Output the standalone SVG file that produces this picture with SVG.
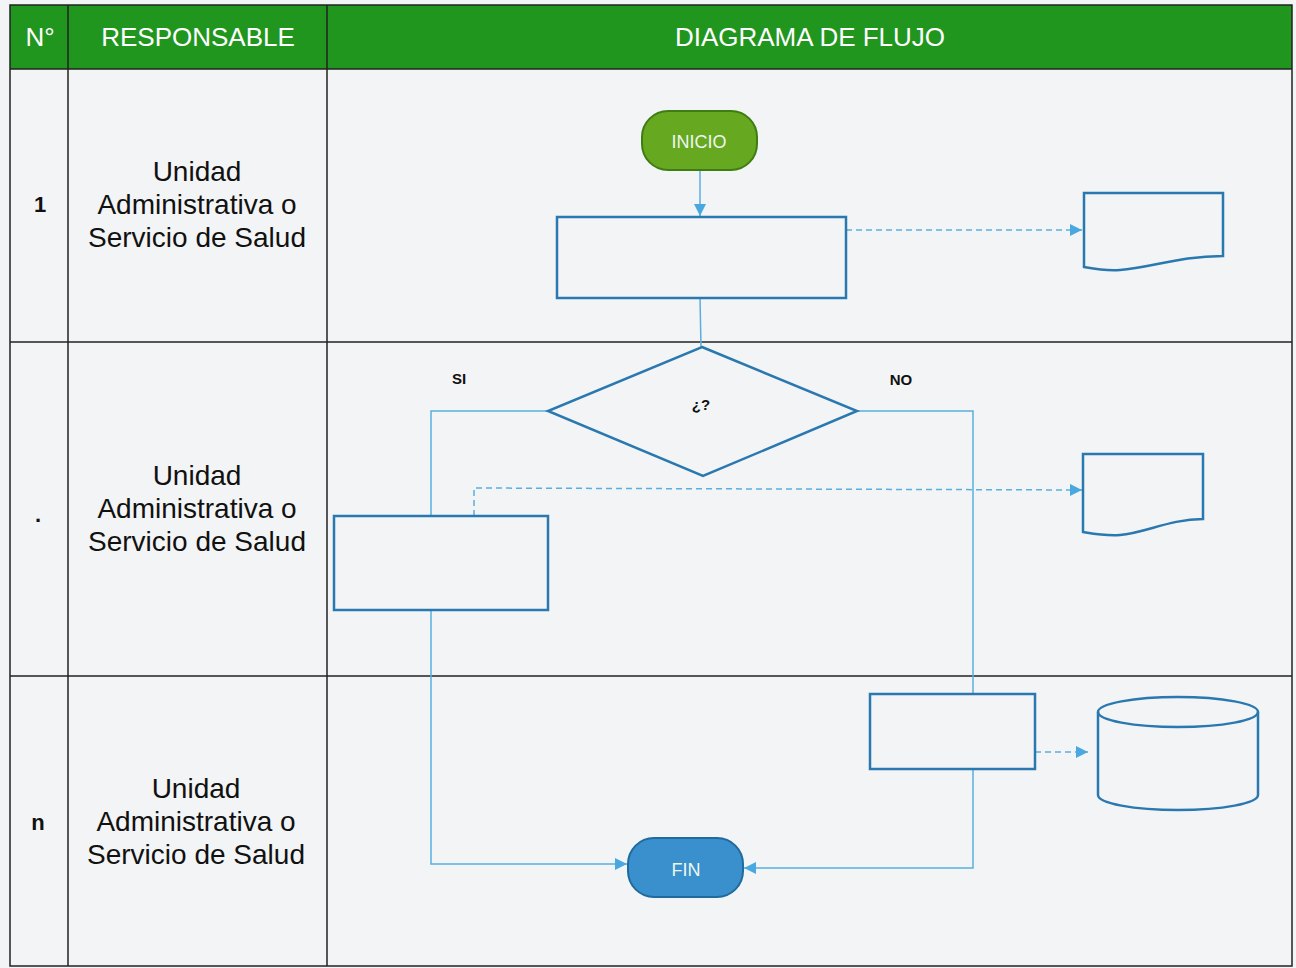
<svg xmlns="http://www.w3.org/2000/svg" width="1296" height="968" viewBox="0 0 1296 968">
<defs>
<style>
.hdr{font-family:"Liberation Sans",Arial,sans-serif;font-size:26px;fill:#ffffff;text-anchor:middle}
.lbl{font-family:"Liberation Sans",Arial,sans-serif;font-size:28px;fill:#111;text-anchor:middle}
.num{font-family:"Liberation Sans",Arial,sans-serif;font-size:22px;font-weight:bold;fill:#111;text-anchor:middle}
.sm{font-family:"Liberation Sans",Arial,sans-serif;font-size:15px;font-weight:bold;fill:#111;text-anchor:middle}
.term{font-family:"Liberation Sans",Arial,sans-serif;font-size:18px;fill:#eef6ee;text-anchor:middle}
.grid{stroke:#222;stroke-width:1.5;fill:none}
.box{fill:none;stroke:#2a78b0;stroke-width:2.5}
.boxf{fill:#f3f4f5;stroke:#2a78b0;stroke-width:2.5}
.conn{fill:none;stroke:#5aaee0;stroke-width:1.5}
.dash{fill:none;stroke:#5aaee0;stroke-width:1.5;stroke-dasharray:6 4}
</style>
<marker id="arr" viewBox="0 0 10 10" refX="10" refY="5" markerWidth="12" markerHeight="12" markerUnits="userSpaceOnUse" orient="auto">
<path d="M0,0 L10,5 L0,10 z" fill="#4aa8e0"/>
</marker>
</defs>
<rect x="0" y="0" width="1296" height="968" fill="#f3f4f5"/>
<g id="table">
<rect x="10" y="5" width="1282" height="64" fill="#20961e"/>
<rect x="10" y="5" width="1282" height="961" class="grid"/>
<line x1="68" y1="5" x2="68" y2="966" class="grid"/>
<line x1="327" y1="5" x2="327" y2="966" class="grid"/>
<line x1="10" y1="69" x2="1292" y2="69" class="grid"/>
<line x1="10" y1="342" x2="1292" y2="342" class="grid"/>
<line x1="10" y1="676" x2="1292" y2="676" class="grid"/>
<text x="40" y="46" class="hdr">N°</text>
<text x="198" y="46" class="hdr">RESPONSABLE</text>
<text x="810" y="46" class="hdr">DIAGRAMA DE FLUJO</text>
<text x="40" y="212" class="num">1</text>
<text x="38" y="522" class="num">.</text>
<text x="38" y="830" class="num">n</text>
<text class="lbl"><tspan x="197" y="181">Unidad</tspan><tspan x="197" y="214">Administrativa o</tspan><tspan x="197" y="247">Servicio de Salud</tspan></text>
<text class="lbl"><tspan x="197" y="485">Unidad</tspan><tspan x="197" y="518">Administrativa o</tspan><tspan x="197" y="551">Servicio de Salud</tspan></text>
<text class="lbl"><tspan x="196" y="798">Unidad</tspan><tspan x="196" y="831">Administrativa o</tspan><tspan x="196" y="864">Servicio de Salud</tspan></text>
</g>
<g id="connectors">
<line x1="700" y1="170" x2="700" y2="216" class="conn" marker-end="url(#arr)"/>
<line x1="700" y1="298" x2="701" y2="347" class="conn"/>
<line x1="846" y1="230" x2="1082" y2="230" class="dash" marker-end="url(#arr)"/>
<polyline points="548,411 431,411 431,864 627,864" class="conn" marker-end="url(#arr)"/>
<polyline points="857,411 973,411 973,868 744,868" class="conn" marker-end="url(#arr)"/>
<polyline points="474,516 474,488 1082,490" class="dash" marker-end="url(#arr)"/>
<line x1="1035" y1="752" x2="1088" y2="752" class="dash" marker-end="url(#arr)"/>
<text x="459" y="384" class="sm">SI</text>
<text x="901" y="385" class="sm">NO</text>
</g>
<g id="inicio">
<rect x="642" y="111" width="115" height="59" rx="26" fill="#66a81f" stroke="#3f7d12" stroke-width="2"/>
<text x="699" y="148" class="term">INICIO</text>
</g>
<g id="proceso1">
<rect x="557" y="217" width="289" height="81" class="box"/>
</g>
<g id="documento1">
<path d="M1084,193 H1223 V256 C1180,256 1150,268 1120,270 C1105,271 1095,269 1084,267 Z" class="box"/>
</g>
<g id="decision">
<polygon points="702,347 857,411 703,476 548,411" class="box"/>
<text x="701" y="410" class="sm">¿?</text>
</g>
<g id="proceso2">
<rect x="334" y="516" width="214" height="94" class="boxf"/>
</g>
<g id="documento2">
<path d="M1083,454 H1203 V519 C1170,519 1145,533 1120,535 C1105,536 1095,534 1083,532 Z" class="box"/>
</g>
<g id="proceso3">
<rect x="870" y="694" width="165" height="75" class="boxf"/>
</g>
<g id="basedatos">
<path d="M1098,712 V795 A80,15 0 0 0 1258,795 V712" class="box"/>
<ellipse cx="1178" cy="712" rx="80" ry="15" class="box"/>
</g>
<g id="fin">
<rect x="628" y="838" width="115" height="59" rx="26" fill="#3a90cc" stroke="#1f6a9e" stroke-width="2"/>
<text x="686" y="876" class="term">FIN</text>
</g>
</svg>
